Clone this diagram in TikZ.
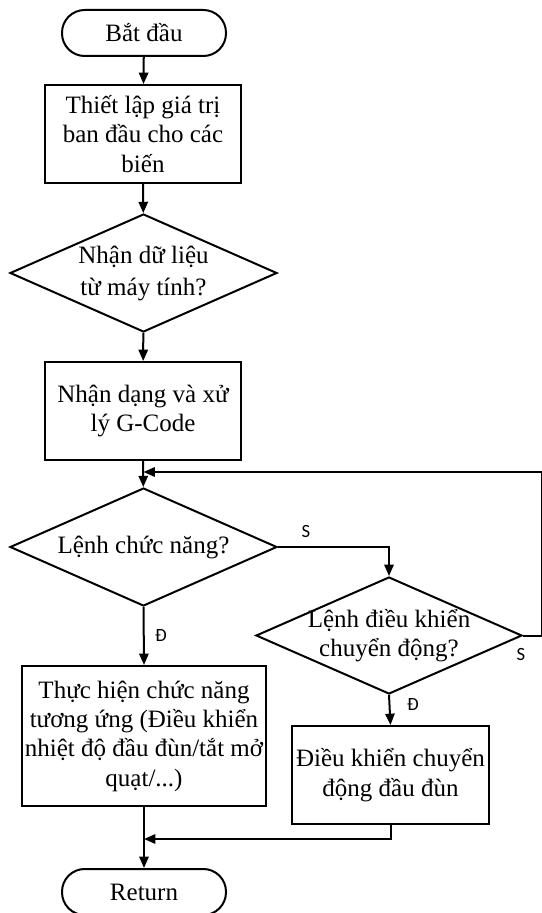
\documentclass[tikz,border=0pt]{standalone}
\usepackage{fontspec}
\setmainfont{Liberation Serif}
\newfontfamily\labelfont{Carlito}
\usetikzlibrary{arrows.meta,shapes.geometric,calc}

\begin{document}
\begin{tikzpicture}[x=0.75pt,y=-0.75pt,
  line width=1.5pt,
  font=\fontsize{18.75pt}{22pt}\selectfont,
  arr/.style={-{Triangle[length=8.5pt,width=7pt]}},
  terminal/.style={draw, rectangle, rounded corners=17pt, inner sep=0pt,
    minimum width=123pt, minimum height=34.5pt},
  procbox/.style={draw, rectangle, inner sep=0pt, align=center},
  decision/.style={draw, diamond, inner sep=0pt},
  dtext/.style={align=center, inner sep=0pt},
  branch/.style={font=\labelfont\fontsize{14pt}{16pt}\selectfont, inner sep=0pt}
]
\useasboundingbox (0,0) rectangle (542,913);

% main column
\node[terminal] (start) at (144,33) {Bắt đầu};
\node[procbox, minimum width=147pt, minimum height=73.5pt] (init) at (143,134)
  {Thiết lập giá trị\\ban đầu cho các\\biến};
\node[decision, minimum width=200.25pt, minimum height=88.5pt] (recv) at (143.5,273) {};
\node[dtext, font=\fontsize{18.75pt}{24pt}\selectfont] (recvtxt) at (recv.center)
  {Nhận dữ liệu\\từ máy tính?};
\node[procbox, minimum width=147pt, minimum height=73.5pt] (parse) at (143,411)
  {Nhận dạng và xử\\lý G-Code};
\coordinate (join1) at (143.5,472);
\node[decision, minimum width=200.25pt, minimum height=88.5pt] (func) at (143.5,547) {};
\node[dtext] (functxt) at (func.center) {Lệnh chức năng?};
\node[procbox, minimum width=183pt, minimum height=105pt] (funcbox) at (144,736)
  {Thực hiện chức năng\\tương ứng (Điều khiển\\nhiệt độ đầu đùn/tắt mở\\quạt/...)};
\coordinate (join2) at (144,839);
\node[terminal] (ret) at (144,892) {Return};

% right column
\node[decision, minimum width=199.5pt, minimum height=87.75pt] (motion) at (389,635.5) {};
\node[dtext] (motiontxt) at (motion.center) {Lệnh điều khiển\\chuyển động?};
\node[procbox, minimum width=147.75pt, minimum height=73.5pt] (movebox) at (390.5,775)
  {Điều khiển chuyển\\động đầu đùn};
\coordinate (loopc) at (541.5,635.5);

% connectors
\draw[arr] (start) -- (init);
\draw[arr] (init) -- (recv);
\draw[arr] (recv) -- (parse);
\draw[arr] (parse) -- (func);
\draw[arr] (func.east) -| (motion.north);
\draw[arr] (func.south) -- (funcbox.north);
\draw[arr] (motion.south) -- (movebox.north);
\draw (motion.east) -- (loopc);
\draw[arr] (loopc) |- (join1);
\draw[arr] (movebox.south) |- (join2);
\draw[arr] (funcbox.south) -- (ret.north);

% branch labels
\node[branch] (s1) at (306,532) {S};
\node[branch] (d1) at (161,636) {Đ};
\node[branch] (s2) at (521,654) {S};
\node[branch] (d2) at (413,705) {Đ};
\end{tikzpicture}
\end{document}
